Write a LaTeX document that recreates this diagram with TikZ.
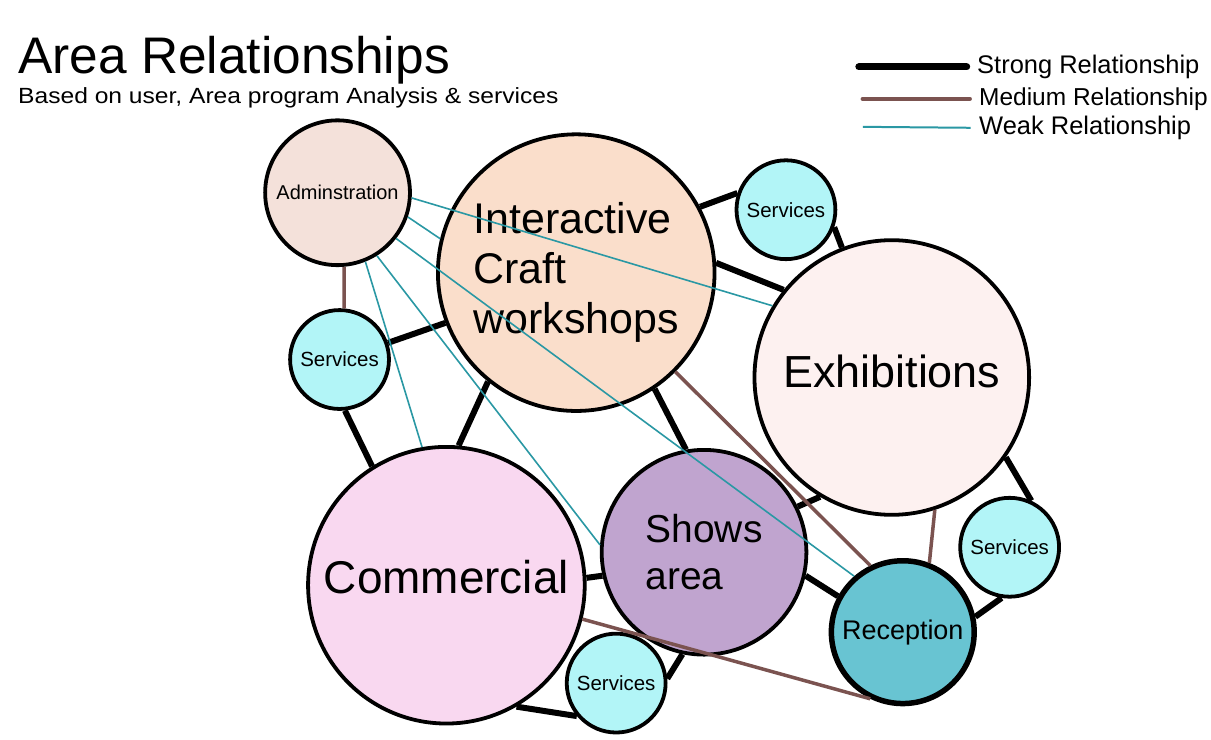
\documentclass[tikz,border=0pt]{standalone}
\usepackage{fontspec}
\setmainfont{Liberation Sans}
\definecolor{admfill}{HTML}{F4E1DA}
\definecolor{icfill}{HTML}{FADECB}
\definecolor{svcfill}{HTML}{B2F5F7}
\definecolor{exfill}{HTML}{FDF1F0}
\definecolor{safill}{HTML}{C0A4CF}
\definecolor{comfill}{HTML}{F9D8F0}
\definecolor{rcfill}{HTML}{68C4D2}
\definecolor{medbrown}{HTML}{7B5350}
\definecolor{weakteal}{HTML}{2A98A4}
\tikzset{
  area/.style={draw,circle,line width=3.8pt,inner sep=0pt,align=left},
  svcarea/.style={area,fill=svcfill,minimum size=99pt,font=\fontsize{20.5}{24}\selectfont},
  strong/.style={line width=6pt},
  medium/.style={line width=3.5pt,draw=medbrown},
  weak/.style={line width=1.6pt,draw=weakteal},
  legtxt/.style={anchor=west,font=\fontsize{25.5}{30}\selectfont}
}

\begin{document}
\begin{tikzpicture}[x=1pt,y=-1pt]
  \fill[white] (0,0) rectangle (1211,740);

  \node[anchor=base west,inner sep=0pt,font=\fontsize{51.5}{60}\selectfont] (title) at (18,74) {Area Relationships};
  \node[anchor=base west,inner sep=0pt] (subtitle) at (18,104)
    {\scalebox{1.12}[1]{\fontsize{22}{26}\selectfont Based on user, Area program Analysis \& services}};

  \node[area,fill=admfill,minimum size=145pt,font=\fontsize{20}{24}\selectfont] (adm) at (338,193) {Adminstration};
  \node[area,fill=icfill,minimum size=277pt,font=\fontsize{43}{50}\selectfont] (ic) at (577,273) {Interactive\\Craft\\workshops};
  \node[svcarea] (svcl) at (340,360) {Services};
  \node[svcarea] (svct) at (787,210) {Services};
  \node[area,fill=exfill,minimum size=275pt,font=\fontsize{45}{52}\selectfont] (ex) at (893,378) {\raisebox{6pt}[\height][\depth]{Exhibitions}};
  \node[area,fill=safill,minimum size=205pt,font=\fontsize{39}{47}\selectfont] (sa) at (705,553) {Shows\\area};
  \node[area,fill=comfill,minimum size=277pt,font=\fontsize{46}{54}\selectfont] (com) at (447,586) {\raisebox{8pt}[\height][\depth]{Commercial}};
  \node[svcarea] (svcb) at (617,684) {Services};
  \node[area,fill=rcfill,line width=5.5pt,minimum size=143pt,font=\fontsize{27}{32}\selectfont] (rc) at (904,633) {Reception};
  \node[svcarea] (svcr) at (1011,548) {Services};

  \draw[strong] (svcl.19) -- (ic.201);
  \draw[strong] (svcl.276) -- (com.122);
  \draw[strong] (ic.231) -- (com.85);
  \draw[strong] (ic.304) -- (sa.100);
  \draw[strong] (ic.28) -- (svct.161);
  \draw[strong] (svct.340) -- (ex.111);
  \draw[strong] (ic.4) -- (ex.141);
  \draw[strong] (ex.239) -- (sa.26);
  \draw[strong] (ex.325) -- (svcr.65);
  \draw[strong] (svcr.261) -- (rc.12);
  \draw[strong] (sa.347) -- (rc.151);
  \draw[strong] (com.3) -- (sa.193);
  \draw[strong] (sa.258) -- (svcb.5);
  \draw[strong] (com.300) -- (svcb.220);

  \draw[medium] (adm.275) -- (svcl.85);
  \draw[medium] (ic.315) -- (rc.116);
  \draw[medium] (ex.288) -- (rc.69);
  \draw[medium] (com.346) -- (rc.244);

  \draw[weak] (adm.356) -- (ex.149);
  \draw[weak] (adm.341) -- (ic.166);
  \draw[weak] (adm.322) -- (rc.131);
  \draw[weak] (adm.302) -- (sa.176);
  \draw[weak] (adm.292) -- (com.100);

  \coordinate (lgs) at (860,67);
  \coordinate (lgm) at (864,99);
  \coordinate (lgw) at (864,127);
  \node[legtxt] (lgstrong) at (975,67) {Strong Relationship};
  \node[legtxt,font=\fontsize{24.5}{29}\selectfont] (lgmedium) at (977,99) {Medium Relationship};
  \node[legtxt] (lgweak) at (977,128) {Weak Relationship};
  \draw[strong,line width=7pt,line cap=round,shorten >=7pt] (lgs) -- (lgstrong.west);
  \draw[medium,line width=4.5pt,line cap=round,shorten >=6pt] (lgm) -- (lgmedium.west);
  \draw[weak,line width=2pt,shorten >=5pt] (lgw) -- (lgweak.west);
\end{tikzpicture}
\end{document}
